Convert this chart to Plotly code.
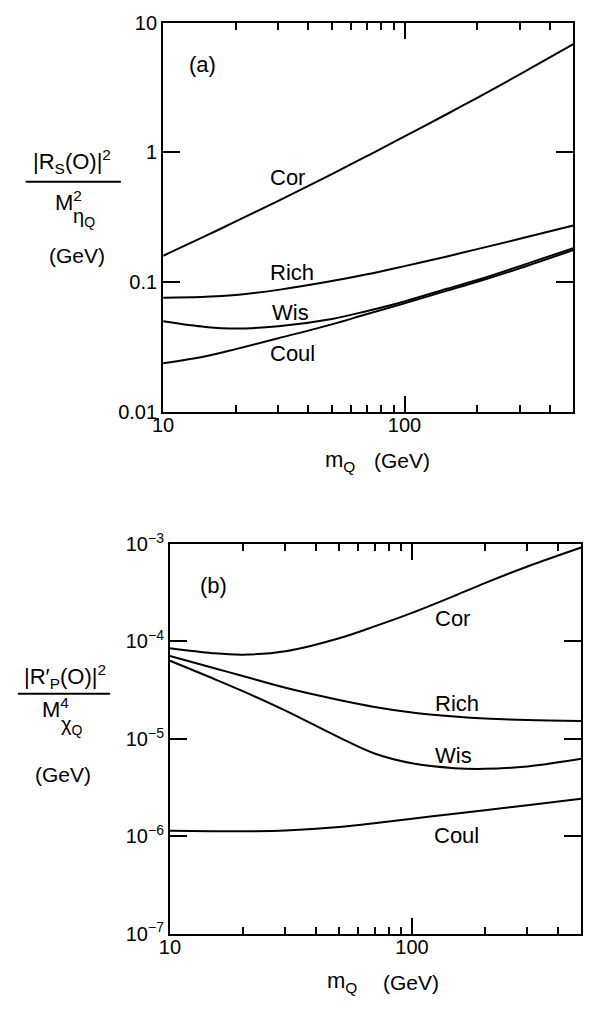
import plotly.graph_objects as go

# quark mass grid (GeV)
m_q = [10, 15, 20, 30, 50, 70, 100, 150, 200, 300, 500]

# (a) |R_S(0)|^2 / M^2(eta_Q)  [GeV]
s_cor = [0.16, 0.2275, 0.294, 0.424, 0.682, 0.94, 1.33, 1.98, 2.64, 4.0, 6.84]
s_rich = [0.0759, 0.0771, 0.0798, 0.0873, 0.102, 0.115, 0.133, 0.158, 0.180, 0.216, 0.274]
s_wis = [0.050, 0.0452, 0.0439, 0.0457, 0.0521, 0.0600, 0.0711, 0.0891, 0.104, 0.133, 0.183]
s_coul = [0.0237, 0.0269, 0.0305, 0.0370, 0.0473, 0.0569, 0.0687, 0.0861, 0.1007, 0.128, 0.177]

# (b) |R'_P(0)|^2 / M^4(chi_Q)  [GeV]
p_cor = [8.51e-5, 7.59e-5, 7.33e-5, 7.94e-5, 1.08e-4, 1.43e-4, 1.97e-4, 2.95e-4, 3.98e-4, 5.89e-4, 9.23e-4]
p_rich = [7.11e-5, 5.38e-5, 4.42e-5, 3.35e-5, 2.51e-5, 2.13e-5, 1.87e-5, 1.70e-5, 1.62e-5, 1.56e-5, 1.53e-5]
p_wis = [6.34e-5, 4.19e-5, 3.09e-5, 1.95e-5, 1.035e-5, 7.08e-6, 5.62e-6, 5.01e-6, 4.93e-6, 5.22e-6, 6.24e-6]
p_coul = [1.143e-6, 1.130e-6, 1.127e-6, 1.148e-6, 1.245e-6, 1.361e-6, 1.514e-6, 1.706e-6, 1.854e-6, 2.089e-6, 2.427e-6]

x_major = [10, 100]
x_major_text = ["10", "100"]
x_minor = [20, 30, 40, 50, 60, 70, 80, 90, 200, 300, 400]
ya_vals = [0.01, 0.1, 1, 10]
ya_text = ["0.01", "0.1", "1", "10"]
yb_vals = [1e-7, 1e-6, 1e-5, 1e-4, 1e-3]
yb_text = ["10<sup>−7</sup>", "10<sup>−6</sup>", "10<sup>−5</sup>", "10<sup>−4</sup>", "10<sup>−3</sup>"]

W, H = 590, 1013
FONT = "Liberation Sans, Arial, Helvetica, sans-serif"
LINE = dict(color="black", width=2)

fig = go.Figure()
for ys in (s_cor, s_rich, s_wis, s_coul):
    fig.add_trace(go.Scatter(x=m_q, y=ys, mode="lines", line=dict(LINE, shape="spline", smoothing=1.0),
                             xaxis="x", yaxis="y", showlegend=False, hoverinfo="skip"))
for ys in (p_cor, p_rich, p_wis, p_coul):
    fig.add_trace(go.Scatter(x=m_q, y=ys, mode="lines", line=dict(LINE, shape="spline", smoothing=1.0),
                             xaxis="x2", yaxis="y2", showlegend=False, hoverinfo="skip"))


def px(x):
    return x / W


def py(y):
    return 1 - y / H


def xaxis(domain, anchor):
    return dict(
        type="log", domain=domain, anchor=anchor, range=[1, 2.69897],
        tickmode="array", tickvals=x_major, ticktext=x_major_text,
        ticks="inside", ticklen=16, tickwidth=1.5, tickcolor="black",
        showline=True, linewidth=2, linecolor="black", mirror="ticks",
        ticklabelstandoff=-6,
        showgrid=False, zeroline=False, tickfont=dict(size=20, color="black", family=FONT),
        minor=dict(tickmode="array", tickvals=x_minor, ticks="inside", ticklen=7,
                   tickwidth=1.5, tickcolor="black", showgrid=False),
    )


def yaxis(domain, anchor, rng, vals, text):
    return dict(
        type="log", domain=domain, anchor=anchor, range=rng,
        tickmode="array", tickvals=vals, ticktext=text,
        ticks="inside", ticklen=17, tickwidth=1.5, tickcolor="black",
        showline=True, linewidth=2, linecolor="black", mirror="ticks",
        showgrid=False, zeroline=False, tickfont=dict(size=20, color="black", family=FONT),
    )


fig.update_layout(
    width=W, height=H, margin=dict(l=0, r=0, t=0, b=0),
    paper_bgcolor="white", plot_bgcolor="white",
    font=dict(family=FONT, color="black", size=21),
    xaxis=xaxis([px(155), px(573)], "y"),
    yaxis=yaxis([py(408), py(9)], "x", [-2, 1], ya_vals, ya_text),
    xaxis2=xaxis([px(162), px(581)], "y2"),
    yaxis2=yaxis([py(943), py(543.5)], "x2", [-7, -3], yb_vals, yb_text),
)

ann = []


def label(x, y, text, size=22, xanchor="center"):
    ann.append(dict(x=px(x), y=py(y), xref="paper", yref="paper", text=text, showarrow=False,
                    xanchor=xanchor, yanchor="middle", borderpad=0,
                    font=dict(size=size, color="black", family=FONT)))


# panel (a)
label(195, 52, "(a)", 22)
label(282, 168, "Cor")
label(286, 265, "Rich")
label(285, 306, "Wis")
label(287, 348, "Coul")
label(62, 151, "|R<sub>S</sub>(O)|<sup>2</sup>", 22)
label(44, 192, "M<sup>2</sup>", 22, "left")
label(62, 209, "η<sub>Q</sub>", 20, "left")
label(67, 248, "(GeV)", 21)
label(335, 458, "m<sub>Q</sub>", 22)
label(398, 458, "(GeV)", 21)

# panel (b)
label(206, 586, "(b)", 22)
label(450, 620, "Cor")
label(454, 707, "Rich")
label(451, 760, "Wis")
label(454, 842, "Coul")
label(55, 679, "|R′<sub>P</sub>(O)|<sup>2</sup>", 22)
label(31, 712, "M<sup>4</sup>", 22, "left")
label(50, 730, "χ<sub>Q</sub>", 20, "left")
label(53, 780, "(GeV)", 21)
label(337, 993, "m<sub>Q</sub>", 22)
label(408, 993, "(GeV)", 21)

fig.update_layout(annotations=ann)

# fraction bars of the y-axis titles
fig.add_shape(type="line", xref="paper", yref="paper", x0=px(15), x1=px(112), y0=py(172), y1=py(172),
              line=dict(color="black", width=2))
fig.add_shape(type="line", xref="paper", yref="paper", x0=px(7), x1=px(101), y0=py(697), y1=py(697),
              line=dict(color="black", width=2))

fig.write_html("out.html")
